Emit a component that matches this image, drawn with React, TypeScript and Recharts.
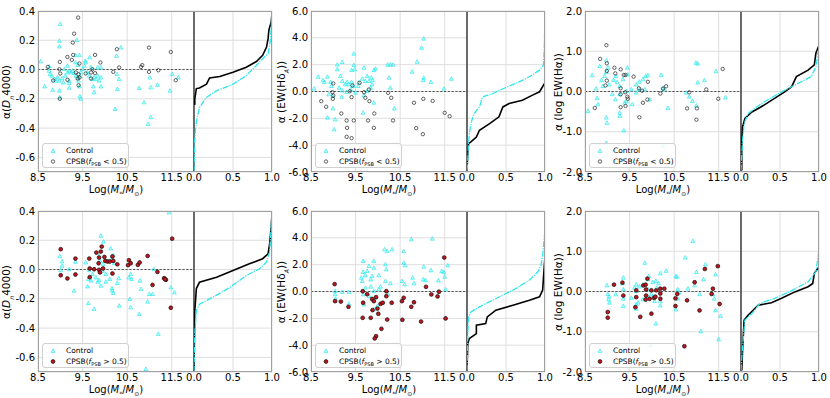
import React from "react";
import { ScatterChart, Scatter, XAxis, YAxis, CartesianGrid, ReferenceLine } from "recharts";

type Pt = [number, number];

// axis ticks
const massTicks = [8.5, 9.5, 10.5, 11.5];
const cdfTicks = [0, 0.5, 1];
const dn4000Ticks = [-0.6, -0.4, -0.2, 0, 0.2, 0.4];
const hdTicks = [-6, -4, -2, 0, 2, 4, 6];
const haTicks = [-2, -1, 0, 1, 2];

// [log mass, alpha] -- top row (f_PSB < 0.5)
const dn4000ControlLow: Pt[] = [
  [9.0, 0.31], [8.98, 0.195], [8.98, 0.157], [9.37, 0.2], [8.56, 0.055], [8.75, 0.02],
  [8.75, -0.009], [8.77, -0.032], [8.81, -0.043], [8.87, -0.066], [8.9, -0.077], [8.94, -0.055],
  [8.98, -0.077], [9.04, -0.061], [9.07, -0.089], [9.11, -0.043], [9.16, -0.02], [9.2, -0.077],
  [9.24, -0.02], [9.28, -0.009], [9.31, -0.025], [9.35, -0.043], [9.39, -0.061], [9.41, -0.077],
  [9.44, -0.043], [9.46, -0.02], [9.5, 0.002], [9.54, 0.025], [9.57, 0.048], [9.61, -0.02],
  [9.65, -0.043], [9.69, 0.014], [9.72, -0.066], [9.76, -0.055], [9.8, -0.066], [9.84, -0.043],
  [9.87, -0.077], [9.91, -0.055], [9.84, 0.014], [9.91, 0.014], [9.66, 0.082], [9.43, 0.098],
  [9.56, 0.059], [8.65, -0.116], [8.83, -0.139], [8.98, -0.145], [8.99, -0.19], [9.2, -0.125],
  [9.2, -0.093], [9.43, -0.116], [9.44, -0.184], [9.46, -0.2], [9.74, -0.116], [9.91, -0.116],
  [9.76, -0.157], [10.23, -0.27], [10.28, -0.134], [10.32, -0.066], [10.26, 0.093], [10.36, 0.15],
  [10.27, -0.032], [10.77, -0.127], [10.88, -0.225], [11.03, -0.327], [10.97, -0.373], [11.01, -0.055],
  [11.03, -0.123], [11.18, -0.105], [11.46, -0.145], [11.65, -0.055], [11.51, -0.032],
  [9.16, 0.025], [9.34, 0.048], [9.34, 0.098], [9.4, 0.03], [9.09, 0.002], [9.2, -0.009],
];
const dn4000CpsbLow: Pt[] = [
  [9.4, 0.355], [9.31, 0.245], [9.28, 0.184], [9.29, 0.1], [9.43, 0.041], [8.99, 0.052],
  [9.16, 0.086], [9.26, 0.066], [8.72, 0.018], [8.98, 0.002], [9.0, -0.027], [8.84, -0.075],
  [9.16, -0.07], [9.35, -0.02], [9.41, -0.032], [9.39, -0.061], [9.41, -0.107], [9.43, -0.055],
  [8.99, -0.2], [9.57, -0.027], [9.69, -0.02], [9.72, 0.002], [9.78, 0.1], [9.78, -0.025],
  [9.9, 0.048], [10.19, -0.016], [10.27, 0.139], [10.32, 0.014], [10.81, 0.018], [10.84, 0.03],
  [10.99, -0.016], [10.99, 0.15], [11.2, -0.005], [11.48, 0.12], [11.59, -0.073], [9.69, -0.061],
];
const hdControlLow: Pt[] = [
  [11.03, 3.93], [10.98, 3.25], [10.88, 2.21], [10.77, 1.47], [11.03, 1.02], [11.02, 0.84],
  [11.19, 0.7], [11.65, 0.94], [11.48, 0.2], [10.22, 1.99], [10.28, 1.99], [10.34, 1.99],
  [10.25, 1.02], [10.28, 0.27], [10.37, -1.27], [9.46, 2.81], [9.46, 1.96], [9.41, 1.59],
  [9.48, 1.64], [9.2, 2.19], [9.09, 2.0], [9.09, 1.64], [8.87, 1.09], [8.66, 1.09],
  [8.77, 0.84], [8.8, 0.7], [8.57, 0.2], [8.94, 0.7], [8.96, 0.4], [8.99, -0.35],
  [8.9, -0.22], [8.99, -1.27], [9.04, -2.09], [8.87, -1.96], [9.02, -2.83], [9.16, 1.14],
  [9.2, 0.77], [9.27, 0.52], [9.31, 0.7], [9.35, 0.52], [9.41, 0.7], [9.45, 0.4],
  [9.39, 0.15], [9.3, -0.05], [9.19, -0.4], [9.2, 0.07], [9.13, 0.27], [9.5, -0.1],
  [9.65, 0.94], [9.69, 1.76], [9.72, 0.77], [9.76, 1.14], [9.8, 0.77], [9.85, 1.02],
  [9.88, 0.84], [9.91, 1.59], [9.95, 1.69], [9.87, 0.52], [9.84, 0.27], [9.76, 0.02],
  [9.69, -0.3], [9.67, -1.59], [9.91, -0.84], [9.56, 0.4], [9.57, 0.65],
];
const hdCpsbLow: Pt[] = [
  [9.0, 0.6], [8.98, -0.05], [9.0, -0.3], [8.99, -0.55], [8.73, -0.72], [8.84, -1.14],
  [9.18, -1.64], [9.3, -2.16], [9.31, -2.71], [9.3, -3.38], [9.41, -3.48], [9.46, -2.16],
  [9.37, 0.02], [9.41, -0.42], [9.43, 0.45], [9.59, 0.65], [9.69, -0.05], [9.72, -0.47],
  [9.8, 0.15], [9.81, -0.72], [9.92, -1.64], [9.78, -2.16], [9.91, -2.71], [10.23, -0.1],
  [10.3, -0.47], [10.34, -2.16], [10.81, -0.84], [11.02, -0.55], [11.23, -0.7], [10.86, -2.73],
  [11.01, -3.18], [11.5, -1.59], [11.61, -1.84],
];
const haControlLow: Pt[] = [
  [8.98, 0.77], [8.83, 0.63], [8.66, 0.4], [9.02, 0.59], [8.94, 0.38], [8.98, 0.48],
  [8.87, 0.28], [9.04, 0.17], [8.75, 0.07], [8.9, 0.13], [9.14, 0.28], [9.19, 0.38],
  [9.22, 0.23], [9.28, 0.13], [9.35, 0.3], [9.45, 0.59], [9.46, 0.42], [9.43, 0.01],
  [9.28, -0.07], [9.18, -0.2], [9.11, -0.07], [8.77, -0.17], [8.79, -0.32], [8.57, -0.49],
  [8.98, -0.65], [8.99, -0.78], [9.28, -0.53], [9.28, -0.61], [9.37, -0.97], [8.98, -1.28],
  [9.43, -0.24], [9.39, -0.28], [9.56, -0.32], [9.54, 0.05], [9.65, 0.17], [9.72, 0.24],
  [9.8, 0.3], [9.86, 0.38], [9.91, 0.4], [9.84, 0.05], [9.72, 0.05], [9.65, -0.03],
  [9.95, -0.2], [10.21, 0.41], [10.25, 0.09], [10.28, 0.05], [10.36, -0.41], [10.25, -1.36],
  [10.77, -0.03], [10.84, -0.13], [10.91, -0.24], [10.99, 0.71], [11.03, 0.69], [11.03, 0.22],
  [11.18, 0.28], [11.0, -0.35], [11.44, 0.5], [11.65, -0.15],
];
const haCpsbLow: Pt[] = [
  [8.98, 1.15], [8.84, 0.81], [8.99, 0.7], [8.99, 0.51], [8.99, 0.27], [8.96, 0.15],
  [8.72, -0.41], [9.16, 0.59], [9.18, 0.45], [9.3, 0.55], [9.37, 0.41], [9.41, 0.41],
  [9.3, 0.08], [9.3, -0.07], [9.4, -0.02], [9.45, -0.13], [9.46, -0.18], [9.41, -0.36],
  [9.3, -0.39], [9.59, 0.37], [9.71, 0.08], [9.78, 0.02], [9.8, -0.28], [9.9, -0.2],
  [9.91, 0.24], [9.72, -0.64], [10.19, -0.05], [10.25, 0.07], [10.32, 0.13], [10.84, -0.02],
  [10.79, -0.42], [11.01, -0.42], [11.0, -0.7], [11.22, 0.05], [11.49, -0.18], [11.59, 0.56],
];

// bottom row (f_PSB > 0.5)
const dn4000ControlHigh: Pt[] = [
  [11.44, 0.39], [9.91, 0.23], [9.97, 0.19], [8.99, 0.09], [9.04, 0.055], [9.04, 0.025],
  [9.01, -0.005], [9.2, 0.002], [9.34, 0.052], [9.31, -0.145], [9.65, -0.005], [9.63, -0.066],
  [9.61, -0.116], [9.63, -0.23], [9.76, -0.27], [9.69, -0.077], [9.72, -0.032], [9.8, -0.055],
  [9.84, -0.084], [9.87, -0.073], [9.91, -0.111], [9.95, -0.009], [10.02, -0.084], [10.02, -0.032],
  [10.11, -0.066], [10.16, -0.13], [10.17, -0.145], [10.19, -0.161], [10.13, 0.143], [10.19, 0.098],
  [10.21, 0.043], [10.31, -0.061], [10.28, -0.093], [10.32, -0.248], [10.54, -0.055], [10.56, -0.202],
  [10.58, -0.032], [10.58, -0.259], [10.6, -0.066], [10.77, -0.305], [10.79, -0.077], [10.81, -0.134],
  [10.96, -0.22], [11.0, -0.168], [11.07, -0.168], [11.1, 0.002], [11.2, -0.44], [10.92, -0.68],
  [11.48, -0.123], [11.56, -0.157], [9.87, 0.093], [9.89, 0.059], [9.96, 0.036], [10.16, 0.075],
  [9.57, 0.048],
];
const dn4000CpsbHigh: Pt[] = [
  [9.01, 0.139], [9.01, -0.039], [9.16, -0.061], [9.34, 0.075], [9.34, -0.034], [9.65, 0.075],
  [9.66, 0.007], [9.66, -0.052], [9.76, 0.002], [9.81, 0.116], [9.86, 0.043], [9.87, -0.002],
  [9.89, -0.02], [9.87, 0.082], [9.91, 0.123], [9.93, 0.157], [9.96, 0.007], [9.99, 0.086],
  [10.01, 0.059], [10.06, 0.055], [10.11, 0.055], [10.17, 0.089], [10.19, 0.059], [10.17, -0.027],
  [10.28, 0.036], [10.54, 0.064], [10.52, 0.03], [10.58, 0.043], [10.74, 0.032], [10.78, 0.048],
  [10.96, 0.093], [11.18, -0.016], [11.07, -0.105], [11.33, -0.059], [11.37, -0.07], [11.35, -0.066],
  [11.51, 0.211], [11.48, -0.261],
];
const hdControlHigh: Pt[] = [
  [11.22, 3.93], [10.75, 3.88], [10.15, 3.13], [10.21, 3.0], [10.32, 3.13], [10.58, 3.0],
  [9.67, 2.26], [9.91, 2.26], [9.8, 1.89], [9.91, 1.76], [9.67, 1.44], [9.76, 1.52],
  [9.72, 1.19], [9.63, 1.02], [9.65, 0.77], [9.84, 0.89], [9.87, 1.14], [10.02, 1.19],
  [10.17, 2.01], [10.19, 1.64], [10.17, 0.77], [10.28, 0.6], [10.06, 0.35], [10.02, 0.15],
  [9.91, 0.02], [9.84, 0.35], [9.72, 0.27], [9.8, -0.35], [9.95, -0.47], [9.99, -1.09],
  [9.91, -1.34], [9.69, -0.97], [9.67, -0.22], [10.58, 2.14], [10.61, 1.94], [10.54, 0.77],
  [10.6, 0.52], [10.78, 1.02], [10.81, 0.6], [11.03, 1.84], [11.02, 0.89], [11.07, 0.84],
  [11.19, 1.57], [11.36, 0.82], [11.43, 1.52], [11.48, 1.44], [11.5, 1.09], [11.57, 1.94],
  [11.52, 0.15], [11.52, -1.96], [9.04, 0.02], [9.04, -0.22], [9.05, -0.55], [9.2, -0.05],
  [9.35, -0.05], [9.35, -0.92], [10.23, -0.22],
];
const hdCpsbHigh: Pt[] = [
  [9.03, 0.55], [9.04, -0.72], [9.17, -0.75], [9.34, -1.14], [9.66, 0.02], [9.67, -0.84],
  [9.66, -1.96], [9.76, -0.2], [9.84, -1.96], [9.87, -0.55], [9.91, -0.72], [9.96, -0.42],
  [9.88, -1.39], [9.99, -1.27], [10.01, -1.66], [10.06, -0.92], [10.11, -0.84], [10.19, 0.02],
  [10.19, -0.35], [10.21, -2.09], [10.08, -2.78], [9.96, -3.33], [9.93, -3.5], [10.31, -0.84],
  [10.54, -0.72], [10.58, -0.47], [10.55, -2.11], [10.75, -1.14], [10.81, -0.8], [10.97, -2.24],
  [11.08, 0.35], [11.2, -0.22], [11.34, -0.37], [11.37, -0.02], [11.49, 2.53], [11.52, -2.01],
];
const haControlHigh: Pt[] = [
  [10.92, 1.25], [10.75, 0.84], [11.2, 0.67], [11.0, 0.48], [11.16, 0.3], [10.96, 0.15],
  [10.81, 0.07], [10.54, 0.38], [10.56, 0.36], [10.58, 0.05], [10.58, -0.18], [10.61, -0.03],
  [10.32, 0.51], [10.19, 0.45], [10.09, 0.26], [10.02, 0.23], [10.15, 0.2], [10.11, 0.09],
  [9.93, 0.38], [9.91, 0.3], [9.84, 0.71], [9.8, 0.17], [9.72, 0.12], [9.65, 0.17],
  [9.61, 0.09], [9.65, 0.01], [9.54, -0.16], [9.69, -0.28], [9.65, -0.43], [9.8, -0.2],
  [9.91, -0.13], [9.99, -0.07], [10.02, -0.13], [10.06, -0.24], [10.09, -0.8], [10.19, -0.35],
  [10.19, -0.24], [10.54, -0.45], [9.97, -1.34], [11.07, -0.07], [11.1, -0.99], [11.37, -0.07],
  [11.4, -0.18], [11.43, -0.47], [11.54, -0.61], [11.5, -1.19], [11.43, 0.42], [9.36, 0.34],
  [9.34, 0.2], [9.36, 0.05], [9.36, -0.18], [9.36, -0.36], [9.19, -0.07], [8.99, 0.15],
  [9.01, -0.07], [9.04, -0.13], [9.03, -0.2], [9.05, -0.28], [9.65, -0.32], [9.91, 0.05],
];
const haCpsbHigh: Pt[] = [
  [9.15, 0.17], [9.34, 0.22], [9.36, -0.1], [9.01, -0.51], [9.01, -0.65], [9.65, 0.03],
  [9.65, -0.14], [9.63, -0.39], [9.74, -0.63], [9.81, 0.15], [9.86, 0.17], [9.9, 0.32],
  [9.87, 0.05], [9.87, -0.1], [9.86, -0.2], [9.95, -0.18], [9.99, 0.03], [9.99, -0.55],
  [10.05, -0.16], [10.08, -0.13], [10.1, 0.03], [10.19, 0.07], [10.19, -0.05], [10.19, -0.18],
  [10.28, 0.07], [10.53, -0.17], [10.57, -0.06], [10.53, -0.36], [10.79, -0.22], [10.73, -1.36],
  [10.96, 0.23], [11.07, -0.47], [11.19, 0.56], [11.34, -0.06], [11.37, 0.07], [11.48, 0.63],
  [11.52, -0.31],
];

// cumulative fraction curves [fraction, alpha]
const dn4000CdfControlLow: Pt[] = [
  [0, -0.7], [0.01, -0.49], [0.02, -0.4], [0.04, -0.33], [0.07, -0.26], [0.16, -0.19], [0.29, -0.145],
  [0.5, -0.1], [0.67, -0.041], [0.8, 0.028], [0.88, 0.074], [0.95, 0.108], [0.98, 0.2], [1.0, 0.384],
];
const dn4000CdfCpsbLow: Pt[] = [
  [0, -0.24], [0.01, -0.237], [0.01, -0.2], [0.03, -0.13], [0.07, -0.126], [0.16, -0.1], [0.2, -0.057],
  [0.33, -0.048], [0.5, -0.018], [0.67, 0.016], [0.8, 0.055], [0.88, 0.097], [0.93, 0.154],
  [0.95, 0.211], [0.96, 0.27], [0.99, 0.326], [1.0, 0.384],
];
const hdCdfControlLow: Pt[] = [
  [0, -5.88], [0.01, -5.13], [0.02, -3.88], [0.03, -3.14], [0.05, -2.39], [0.09, -1.64], [0.16, -1.15],
  [0.2, -0.4], [0.33, -0.15], [0.5, 0.3], [0.67, 0.72], [0.8, 1.1], [0.93, 1.59], [0.98, 1.97],
  [0.99, 3.09], [1.0, 5.58],
];
const hdCdfCpsbLow: Pt[] = [
  [0, -5.88], [0.01, -4.5], [0.02, -3.88], [0.05, -3.76], [0.12, -3.39], [0.16, -2.89], [0.29, -2.39],
  [0.41, -1.89], [0.46, -1.15], [0.54, -0.9], [0.71, -0.65], [0.84, -0.27], [0.93, -0.02], [1.0, 0.65],
];
const haCdfControlLow: Pt[] = [
  [0, -1.96], [0.02, -1.21], [0.04, -0.8], [0.09, -0.55], [0.26, -0.3], [0.52, -0.01], [0.73, 0.2],
  [0.9, 0.37], [0.96, 0.61], [1.0, 1.11], [1.0, 1.94],
];
const haCdfCpsbLow: Pt[] = [
  [0.01, -1.96], [0.01, -1.29], [0.02, -0.88], [0.05, -0.67], [0.14, -0.51], [0.26, -0.38], [0.43, -0.17],
  [0.56, -0.01], [0.65, 0.12], [0.71, 0.37], [0.86, 0.53], [0.94, 0.66], [0.96, 0.95], [1.0, 1.15],
];
const dn4000CdfControlHigh: Pt[] = [
  [0, -0.7], [0.01, -0.44], [0.03, -0.28], [0.07, -0.237], [0.24, -0.19], [0.46, -0.122], [0.67, -0.041],
  [0.84, 0.005], [0.93, 0.051], [0.97, 0.12], [1.0, 0.384],
];
const dn4000CdfCpsbHigh: Pt[] = [
  [0, -0.7], [0.01, -0.28], [0.02, -0.21], [0.03, -0.13], [0.07, -0.087], [0.29, -0.053], [0.5, -0.007],
  [0.71, 0.039], [0.88, 0.074], [0.95, 0.108], [0.97, 0.177], [0.99, 0.292], [1.0, 0.384],
];
const hdCdfControlHigh: Pt[] = [
  [0, -5.88], [0.01, -3.14], [0.02, -1.89], [0.05, -1.52], [0.16, -1.15], [0.37, -0.52], [0.59, 0.1],
  [0.8, 0.85], [0.91, 1.47], [0.95, 1.97], [0.97, 2.71], [1.0, 4.58], [1.0, 6.0],
];
const hdCdfCpsbHigh: Pt[] = [
  [0, -5.88], [0.01, -3.88], [0.03, -3.51], [0.12, -3.14], [0.12, -2.51], [0.24, -2.39], [0.26, -1.89],
  [0.37, -1.39], [0.59, -1.02], [0.8, -0.65], [0.93, -0.4], [0.97, 0.1], [0.99, 1.84], [1.0, 2.59],
];
const haCdfControlHigh: Pt[] = [
  [0, -1.96], [0.02, -1.38], [0.05, -0.71], [0.14, -0.55], [0.24, -0.3], [0.43, -0.17], [0.65, 0.02],
  [0.86, 0.24], [0.96, 0.49], [1.0, 1.03], [1.0, 1.94],
];
const haCdfCpsbHigh: Pt[] = [
  [0.01, -1.96], [0.02, -1.46], [0.04, -0.71], [0.09, -0.59], [0.22, -0.34], [0.39, -0.28], [0.52, -0.17],
  [0.69, -0.01], [0.86, 0.12], [0.92, 0.2], [0.94, 0.45], [1.0, 0.61],
];

const FONT = "DejaVu Sans, sans-serif";
const CYAN = "#2ee6ea";
const PW = 156;
const PH = 161;
const CW = 78;
const colLeft = [38, 311, 585];
const rowTop = [11, 211];

const toPts = (arr: Pt[]) => arr.map(([x, y]) => ({ x, y }));
const fmt = (v: number) => v.toFixed(1);

const sub = { fontSize: "0.6em" };
const dnLabel = <>α(<i>D</i><sub style={sub}><i>n</i></sub>4000)</>;
const hdLabel = <>α (EW(Hδ<sub style={sub}><i>A</i></sub>))</>;
const haLabel = <>α (log EW(Hα))</>;

const panels = [
  { col: 0, row: 0, dom: [-0.7, 0.4], ticks: dn4000Ticks, control: dn4000ControlLow, cpsb: dn4000CpsbLow, cdfC: dn4000CdfControlLow, cdfP: dn4000CdfCpsbLow, label: dnLabel, high: false },
  { col: 1, row: 0, dom: [-6, 6], ticks: hdTicks, control: hdControlLow, cpsb: hdCpsbLow, cdfC: hdCdfControlLow, cdfP: hdCdfCpsbLow, label: hdLabel, high: false },
  { col: 2, row: 0, dom: [-2, 2], ticks: haTicks, control: haControlLow, cpsb: haCpsbLow, cdfC: haCdfControlLow, cdfP: haCdfCpsbLow, label: haLabel, high: false },
  { col: 0, row: 1, dom: [-0.7, 0.4], ticks: dn4000Ticks, control: dn4000ControlHigh, cpsb: dn4000CpsbHigh, cdfC: dn4000CdfControlHigh, cdfP: dn4000CdfCpsbHigh, label: dnLabel, high: true },
  { col: 1, row: 1, dom: [-6, 6], ticks: hdTicks, control: hdControlHigh, cpsb: hdCpsbHigh, cdfC: hdCdfControlHigh, cdfP: hdCdfCpsbHigh, label: hdLabel, high: true },
  { col: 2, row: 1, dom: [-2, 2], ticks: haTicks, control: haControlHigh, cpsb: haCpsbHigh, cdfC: haCdfControlHigh, cdfP: haCdfCpsbHigh, label: haLabel, high: true },
];

const Tri = (p: any) => (
  <path
    d={`M${p.cx},${p.cy - 2.1} L${p.cx + 1.9},${p.cy + 1.4} L${p.cx - 1.9},${p.cy + 1.4} Z`}
    fill="rgba(0,255,255,0.2)"
    stroke={CYAN}
    strokeWidth={0.7}
  />
);
const OpenDot = (p: any) => <circle cx={p.cx} cy={p.cy} r={1.7} fill="none" stroke="#222" strokeWidth={0.7} />;
const RedDot = (p: any) => <circle cx={p.cx} cy={p.cy} r={1.9} fill="#c3141c" stroke="#111" strokeWidth={0.7} />;
const NoDot = () => <g />;

const tickStyle = { fontSize: 10, fill: "#000", fontFamily: FONT };

function Legend({ left, top, high }: { left: number; top: number; high: boolean }) {
  return (
    <div
      style={{
        position: "absolute", left, top, width: 87, height: 25, boxSizing: "border-box",
        border: "1px solid #d0d0d0", borderRadius: 3, background: "rgba(255,255,255,0.85)",
        fontFamily: FONT, fontSize: 7.5, color: "#000",
      }}
    >
      <svg width={14} height={26} style={{ position: "absolute", left: 3, top: 0 }}>
        <path d="M7,4.9 L8.9,8.4 L5.1,8.4 Z" fill="rgba(0,255,255,0.2)" stroke={CYAN} strokeWidth={0.7} />
        {high ? (
          <circle cx={7} cy={17.5} r={1.9} fill="#c3141c" stroke="#111" strokeWidth={0.7} />
        ) : (
          <circle cx={7} cy={17.5} r={1.7} fill="none" stroke="#222" strokeWidth={0.7} />
        )}
      </svg>
      <div style={{ position: "absolute", left: 23, top: 1.5, lineHeight: "10px", whiteSpace: "nowrap" }}>Control</div>
      <div style={{ position: "absolute", left: 23, top: 12.5, lineHeight: "10px", whiteSpace: "nowrap" }}>
        CPSB(<i>f</i><sub style={{ fontSize: 5, verticalAlign: "-1.5px" }}>PSB</sub> {high ? ">" : "<"} 0.5)
      </div>
    </div>
  );
}

function Panel(p: (typeof panels)[number]) {
  const left = colLeft[p.col];
  const top = rowTop[p.row];
  return (
    <>
      <div style={{ position: "absolute", left: left - 40, top: top - 5 }}>
        <ScatterChart width={196} height={191} margin={{ top: 5, right: 0, bottom: 0, left: 0 }}>
          <CartesianGrid stroke="#dadada" strokeWidth={0.9} />
          <XAxis
            type="number" dataKey="x" domain={[8.5, 12]} ticks={massTicks} allowDataOverflow
            interval={0} tickFormatter={fmt} tick={tickStyle} tickLine={false} tickSize={0}
            tickMargin={2} axisLine={false} height={25}
          />
          <YAxis
            type="number" dataKey="y" domain={p.dom} ticks={p.ticks} allowDataOverflow
            interval={0} tickFormatter={fmt} tick={tickStyle} tickLine={false} tickSize={0}
            tickMargin={3} axisLine={false} width={40}
          />
          <ReferenceLine y={0} stroke="#555" strokeDasharray="2.2 1.6" strokeWidth={1.1} />
          <Scatter data={toPts(p.control)} shape={Tri} isAnimationActive={false} />
          <Scatter data={toPts(p.cpsb)} shape={p.high ? RedDot : OpenDot} isAnimationActive={false} />
        </ScatterChart>
      </div>
      <div style={{ position: "absolute", left: left + PW - 12, top: top - 5 }}>
        <ScatterChart width={104} height={191} margin={{ top: 5, right: 14, bottom: 0, left: 12 }}>
          <CartesianGrid stroke="#dadada" strokeWidth={0.9} />
          <XAxis
            type="number" dataKey="x" domain={[0, 1]} ticks={cdfTicks} allowDataOverflow
            interval={0} tickFormatter={fmt} tick={tickStyle} tickLine={false} tickSize={0}
            tickMargin={2} axisLine={false} height={25}
          />
          <YAxis type="number" dataKey="y" domain={p.dom} ticks={p.ticks} allowDataOverflow hide />
          <ReferenceLine x={0} stroke="#000" strokeWidth={1.1} />
          <Scatter
            data={toPts(p.cdfP)} shape={NoDot} isAnimationActive={false}
            line={{ stroke: "#000", strokeWidth: 1.6 }}
          />
          <Scatter
            data={toPts(p.cdfC)} shape={NoDot} isAnimationActive={false}
            line={{ stroke: CYAN, strokeWidth: 1.3, strokeDasharray: "6 1.2 1.2 1.2" }}
          />
        </ScatterChart>
      </div>
      <div
        style={{
          position: "absolute", left, top, width: PW + CW, height: PH, boxSizing: "border-box",
          border: "1px solid #a0a0a0", pointerEvents: "none",
        }}
      />
      <Legend left={left + 4} top={top + 132} high={p.high} />
      <div
        style={{
          position: "absolute", left: left + PW / 2, top: top + PH + 19.5, transform: "translate(-50%, -50%)",
          fontFamily: FONT, fontSize: 10, whiteSpace: "nowrap", lineHeight: "10px",
        }}
      >
        Log(<i>M</i><sub style={sub}>*</sub>/<i>M</i><sub style={sub}>⊙</sub>)
      </div>
      <div
        style={{
          position: "absolute", left: p.col === 0 ? 9 : left - 27, top: top + PH / 2,
          transform: "translate(-50%, -50%) rotate(-90deg)", fontFamily: FONT, fontSize: 10.5,
          whiteSpace: "nowrap", lineHeight: "11px",
        }}
      >
        {p.label}
      </div>
    </>
  );
}

export default function App() {
  return (
    <div style={{ position: "absolute", left: 0, top: 0, width: 830, height: 398, background: "#fff", overflow: "hidden" }}>
      {panels.map((p, i) => (
        <Panel key={i} {...p} />
      ))}
    </div>
  );
}
